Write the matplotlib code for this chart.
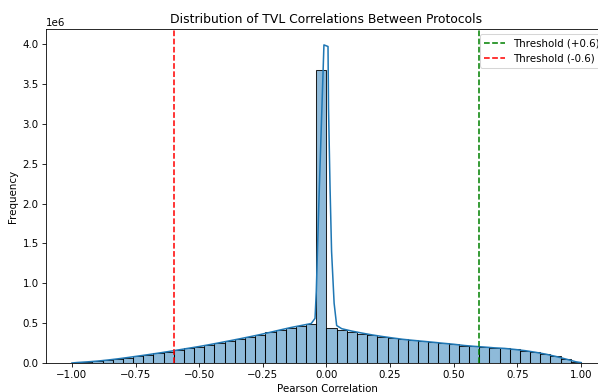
import numpy as np
import matplotlib
matplotlib.use("Agg")
import matplotlib.pyplot as plt

# ---- data (counts in millions) ----
bin_width = 0.04
bin_lefts = np.round(np.arange(-1.0, 1.0, bin_width), 2)
counts_m = [0.005, 0.012, 0.022, 0.035, 0.05, 0.068, 0.085, 0.103, 0.122, 0.142,
            0.163, 0.184, 0.205, 0.228, 0.252, 0.277, 0.302, 0.328, 0.355, 0.385,
            0.415, 0.445, 0.47, 0.495,
            3.67,
            0.44, 0.42, 0.39, 0.37, 0.35, 0.33, 0.313, 0.296, 0.284, 0.272,
            0.26, 0.247, 0.234, 0.217, 0.208, 0.2, 0.19, 0.184, 0.17, 0.155,
            0.134, 0.113, 0.084, 0.05, 0.017]

kde_x = [-1.00, -0.98, -0.94, -0.90, -0.86, -0.82, -0.78, -0.74, -0.70, -0.66,
         -0.62, -0.58, -0.54, -0.50, -0.46, -0.42, -0.38, -0.34, -0.30, -0.26,
         -0.22, -0.18, -0.14, -0.10, -0.06, -0.045, -0.04, -0.03, -0.02, -0.01,
         0.006, 0.008, 0.014, 0.02, 0.03, 0.04, 0.06, 0.10, 0.14, 0.18,
         0.22, 0.26, 0.30, 0.34, 0.38, 0.42, 0.46, 0.50, 0.54, 0.58,
         0.62, 0.66, 0.70, 0.74, 0.78, 0.82, 0.86, 0.90, 0.94, 0.98, 1.00]
kde_m = [0.0, 0.006, 0.014, 0.024, 0.037, 0.052, 0.069, 0.087, 0.105, 0.124,
         0.144, 0.165, 0.186, 0.207, 0.23, 0.254, 0.279, 0.304, 0.33, 0.357,
         0.386, 0.416, 0.445, 0.47, 0.495, 0.56, 0.9, 2.0, 3.0, 3.99,
         3.97, 3.2, 2.2, 1.4, 0.75, 0.47, 0.43, 0.40, 0.375, 0.352,
         0.332, 0.314, 0.297, 0.284, 0.272, 0.26, 0.247, 0.235, 0.22, 0.209,
         0.2, 0.19, 0.183, 0.17, 0.155, 0.135, 0.112, 0.083, 0.05, 0.015, 0.005]

thresholds = [0.6, -0.6]
threshold_labels = ["Threshold (+0.6)", "Threshold (-0.6)"]
threshold_colors = ["green", "red"]

counts = np.array(counts_m) * 1e6
kde_y = np.array(kde_m) * 1e6

DPI = 74
fig = plt.figure(figsize=(598 / DPI, 392 / DPI), dpi=DPI)
ax = fig.add_axes([46 / 598, 1 - 363 / 392, (609 - 46) / 598, (363 - 29) / 392])

ax.bar(bin_lefts, counts, width=bin_width, align="edge",
       facecolor=(0.1216, 0.4667, 0.7059, 0.5), edgecolor=(0, 0, 0, 0.85), linewidth=1)
ax.plot(kde_x, kde_y, color="#1f77b4", linewidth=1.5)

for t, lab, c in zip(thresholds, threshold_labels, threshold_colors):
    ax.axvline(t, color=c, linestyle="--", label=lab)

ax.set_xlim(-1.102, 1.11)
ax.set_ylim(0, 3.99e6 * 1.05)
ax.set_title("Distribution of TVL Correlations Between Protocols", x=0.4975)
ax.set_xlabel("Pearson Correlation")
ax.set_ylabel("Frequency")
ax.legend(loc="upper right")

fig.savefig("out.png", dpi=DPI)
